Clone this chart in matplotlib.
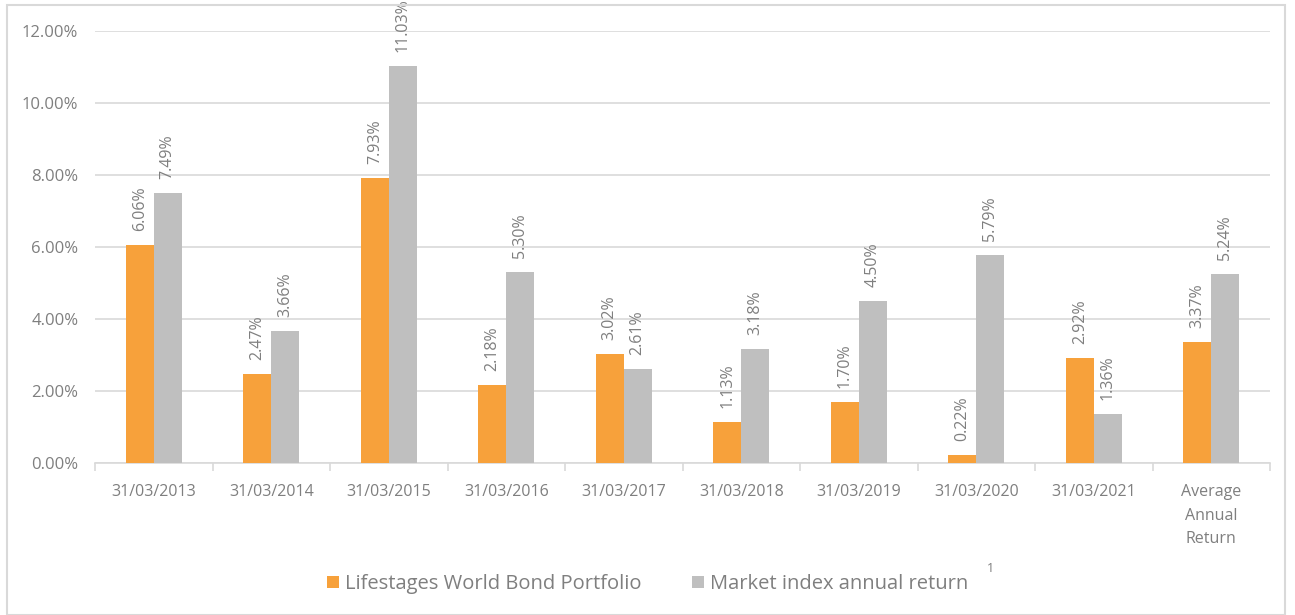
import matplotlib
matplotlib.use("Agg")
import matplotlib.pyplot as plt
from matplotlib.patches import Rectangle
import numpy as np

categories = ["31/03/2013", "31/03/2014", "31/03/2015", "31/03/2016", "31/03/2017",
              "31/03/2018", "31/03/2019", "31/03/2020", "31/03/2021", "Average\nAnnual\nReturn"]
portfolio = [6.06, 2.47, 7.93, 2.18, 3.02, 1.13, 1.70, 0.22, 2.92, 3.37]
market = [7.49, 3.66, 11.03, 5.30, 2.61, 3.18, 4.50, 5.79, 1.36, 5.24]
yticks = [0, 2, 4, 6, 8, 10, 12]
series_names = ["Lifestages World Bond Portfolio", "Market index annual return"]

ORANGE = "#F7A13B"
GREY = "#BFBFBF"
TEXT = "#7F7F7F"
GRID = "#D9D9D9"

plt.rcParams['font.family'] = ['Open Sans', 'DejaVu Sans']

fig = plt.figure(figsize=(12.95, 6.15), dpi=100)
ax = fig.add_axes([95/1295, 1 - 463/615, (1270-95)/1295, (463-31)/615])

x = np.arange(len(categories))
w = 0.238
b1 = ax.bar(x - w/2, portfolio, w, color=ORANGE, label=series_names[0], zorder=3)
b2 = ax.bar(x + w/2, market, w, color=GREY, label=series_names[1], zorder=3)

for bars, vals in ((b1, portfolio), (b2, market)):
    for r, v in zip(bars, vals):
        ax.annotate(f"{v:.2f}%", (r.get_x() + r.get_width()/2, v),
                    xytext=(0, 10), textcoords="offset points", rotation=90,
                    ha="center", va="bottom", fontsize=11.5, color=TEXT, zorder=4)

ax.set_xlim(-0.5, len(categories) - 0.5)
ax.set_ylim(0, 12)
ax.set_yticks(yticks)
ax.set_yticklabels([f"{t:.2f}%" for t in yticks], fontsize=12, color=TEXT)
ax.yaxis.grid(True, color=GRID, linewidth=1.2, zorder=0)
ax.tick_params(axis='y', length=0, pad=12)

ax.set_xticks(x)
ax.set_xticklabels(categories, fontsize=11.5, color=TEXT, linespacing=1.65)
ax.tick_params(axis='x', which='major', length=0, pad=15)
ax.set_xticks(np.arange(-0.5, len(categories), 1), minor=True)
ax.tick_params(axis='x', which='minor', length=6, color=GRID, width=1.2)

for s in ("top", "right", "left"):
    ax.spines[s].set_visible(False)
ax.spines["bottom"].set_color(GRID)
ax.spines["bottom"].set_linewidth(1.2)

leg = fig.legend(loc="center", bbox_to_anchor=(0.5, 1 - 584/615), ncol=2, frameon=False,
                 fontsize=14.5, handlelength=0.6, handleheight=0.6, handletextpad=0.3,
                 columnspacing=2.5)
for t in leg.get_texts():
    t.set_color(TEXT)
fig.text(990/1295, 1 - 568/615, "1", fontsize=9, color=TEXT, ha="center", va="center")

fig.patches.append(Rectangle((7/1295, 0), (1285-7)/1295, 1 - 5/615, transform=fig.transFigure,
                             fill=False, edgecolor=GRID, linewidth=1.5))

fig.savefig("out.png", dpi=100, facecolor="white")
